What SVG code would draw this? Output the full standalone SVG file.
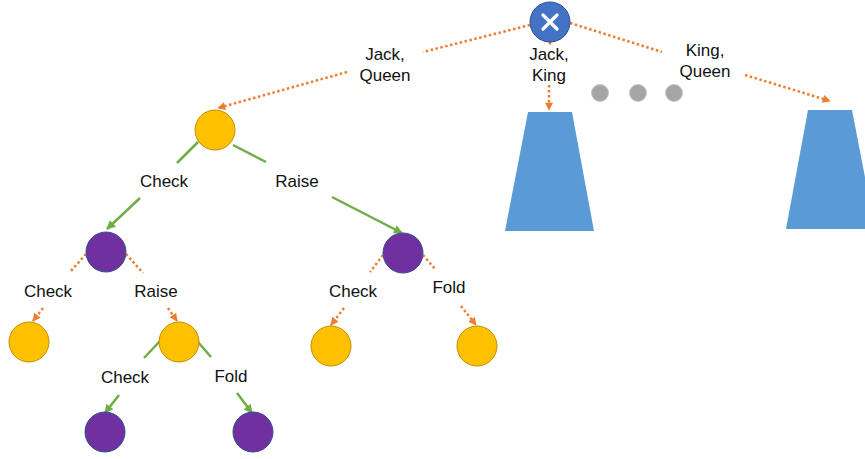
<svg xmlns="http://www.w3.org/2000/svg" width="865" height="459" viewBox="0 0 865 459">
<defs>
<style>
.lbl{font-family:"Liberation Sans",Arial,sans-serif;font-size:17px;fill:#111;text-anchor:middle}
.dot{fill:none;stroke:#ED7D31;stroke-width:2.5;stroke-dasharray:2.5 2.5}
.grn{fill:none;stroke:#70AD47;stroke-width:2.5}
.yel{fill:#FFC000;stroke:#BF9000;stroke-width:1}
.pur{fill:#7030A0;stroke:#2F528F;stroke-width:1}
.gry{fill:#A5A5A5;stroke:#C8C8C8;stroke-width:1}
.trap{fill:#5B9BD5}
</style>
<marker id="ao" viewBox="0 0 10 10" refX="9" refY="5" markerWidth="9" markerHeight="8" markerUnits="userSpaceOnUse" orient="auto">
<path d="M0,0 L10,5 L0,10 z" fill="#ED7D31"/>
</marker>
<marker id="ag" viewBox="0 0 10 10" refX="9" refY="5" markerWidth="10" markerHeight="9" markerUnits="userSpaceOnUse" orient="auto">
<path d="M0,0 L10,5 L0,10 z" fill="#70AD47"/>
</marker>
</defs>
<rect width="865" height="459" fill="#fff"/>
<g id="connectors">
<line class="dot" x1="530" y1="25" x2="423" y2="52"/>
<line class="dot" x1="347" y1="72" x2="218" y2="108" marker-end="url(#ao)"/>
<line class="dot" x1="550" y1="42" x2="550" y2="46"/>
<line class="dot" x1="549" y1="85" x2="549" y2="110" marker-end="url(#ao)"/>
<line class="dot" x1="570" y1="23" x2="662" y2="52"/>
<line class="dot" x1="745" y1="75" x2="830" y2="101" marker-end="url(#ao)"/>
<line class="grn" x1="198" y1="142" x2="177" y2="163"/>
<line class="grn" x1="140" y1="198" x2="107" y2="229" marker-end="url(#ag)"/>
<line class="grn" x1="233" y1="145" x2="266" y2="162"/>
<line class="grn" x1="332" y1="197" x2="402" y2="233" marker-end="url(#ag)"/>
<line class="dot" x1="86" y1="254" x2="70" y2="272"/>
<line class="dot" x1="43" y1="308" x2="33" y2="321" marker-end="url(#ao)"/>
<line class="dot" x1="126" y1="254" x2="143" y2="273"/>
<line class="dot" x1="168" y1="308" x2="177" y2="321" marker-end="url(#ao)"/>
<line class="grn" x1="160" y1="341" x2="144" y2="358"/>
<line class="grn" x1="198" y1="342" x2="211" y2="357"/>
<line class="grn" x1="119" y1="395" x2="105" y2="413" marker-end="url(#ag)"/>
<line class="grn" x1="237" y1="393" x2="252" y2="413" marker-end="url(#ag)"/>
<line class="dot" x1="383" y1="255" x2="370" y2="272"/>
<line class="dot" x1="344" y1="308" x2="331" y2="325" marker-end="url(#ao)"/>
<line class="dot" x1="423" y1="255" x2="435" y2="269"/>
<line class="dot" x1="461" y1="306" x2="476" y2="325" marker-end="url(#ao)"/>
</g>
<g id="labels">
<text class="lbl" x="385" y="60">Jack,</text>
<text class="lbl" x="385" y="81">Queen</text>
<text class="lbl" x="549" y="60">Jack,</text>
<text class="lbl" x="549" y="81">King</text>
<text class="lbl" x="705" y="56">King,</text>
<text class="lbl" x="705" y="77">Queen</text>
<text class="lbl" x="164" y="187">Check</text>
<text class="lbl" x="297" y="187">Raise</text>
<text class="lbl" x="48" y="297">Check</text>
<text class="lbl" x="156" y="297">Raise</text>
<text class="lbl" x="125" y="383">Check</text>
<text class="lbl" x="231" y="382">Fold</text>
<text class="lbl" x="353" y="297">Check</text>
<text class="lbl" x="449" y="293">Fold</text>
</g>
<g id="root">
<circle cx="550" cy="22" r="20" fill="#4472C4" stroke="#2F528F" stroke-width="1"/>
<path d="M543,15 L557,29 M557,15 L543,29" stroke="#fff" stroke-width="3.2" stroke-linecap="round"/>
</g>
<g id="ellipsis">
<circle class="gry" cx="600" cy="93" r="8.5"/>
<circle class="gry" cx="638" cy="93" r="8.5"/>
<circle class="gry" cx="674" cy="93" r="8.5"/>
</g>
<g id="subtree-jk"><polygon class="trap" points="528,112 572,112 594,231 505,231"/></g>
<g id="subtree-kq"><polygon class="trap" points="808,110 852,110 875,229 786,229"/></g>
<g id="y1"><circle class="yel" cx="215" cy="130" r="20"/></g>
<g id="p1"><circle class="pur" cx="106" cy="252" r="20"/></g>
<g id="p2"><circle class="pur" cx="403" cy="253" r="20"/></g>
<g id="y2"><circle class="yel" cx="29" cy="342" r="20"/></g>
<g id="y3"><circle class="yel" cx="179" cy="342" r="20"/></g>
<g id="y4"><circle class="yel" cx="331" cy="346" r="20"/></g>
<g id="y5"><circle class="yel" cx="477" cy="346" r="20"/></g>
<g id="p3"><circle class="pur" cx="105" cy="432" r="20"/></g>
<g id="p4"><circle class="pur" cx="253" cy="432" r="20"/></g>
</svg>
